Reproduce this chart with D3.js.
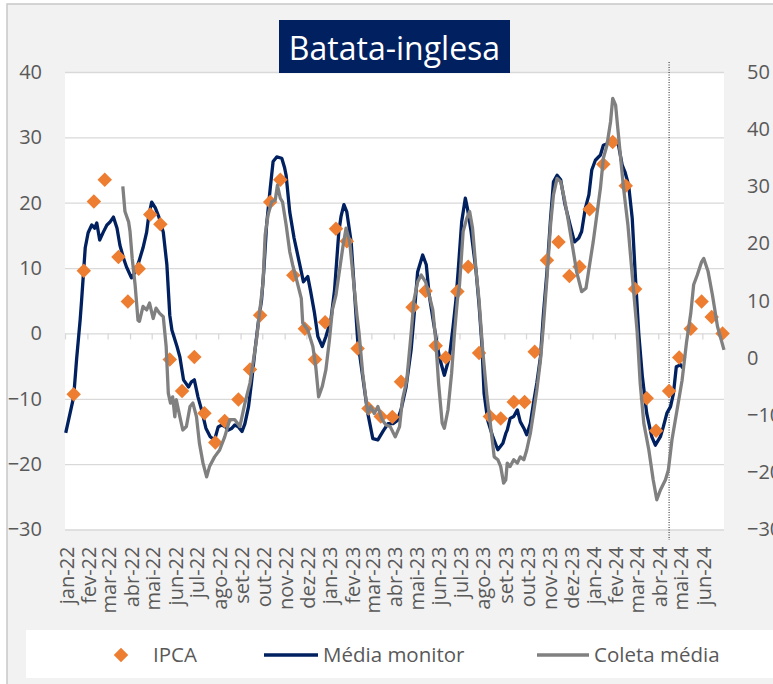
<!DOCTYPE html>
<html lang="pt">
<head>
<meta charset="utf-8">
<script src="https://cdnjs.cloudflare.com/ajax/libs/d3/7.8.5/d3.min.js"></script>
<style>
  body { margin: 0; background: #fff; }
  text { font-family: 'Open Sans', sans-serif; fill: #595959; }
  .grid line { stroke: #d9d9d9; stroke-width: 1.3; }
  .grid path, .lbl path, .xt path { display: none; }
  .xt line { stroke: #d9d9d9; stroke-width: 1.3; }
  .lbl text { font-size: 20px; }
  .title { font-size: 32px; fill: #fff; }
  .leg { font-size: 20.5px; }
</style>
</head>
<body>
<div id="chart"></div>
<script>
// IPCA (eixo esquerdo)
var ipca = [
  ["2022-01-13",-9.3],["2022-01-27",9.6],["2022-02-10",20.2],["2022-02-25",23.5],
  ["2022-03-16",11.7],["2022-03-29",4.9],["2022-04-13",9.9],["2022-04-29",18.2],
  ["2022-05-13",16.7],["2022-05-26",-4.0],["2022-06-12",-8.8],["2022-06-29",-3.6],
  ["2022-07-13",-12.2],["2022-07-28",-16.7],["2022-08-10",-13.4],["2022-08-29",-10.1],
  ["2022-09-14",-5.5],["2022-09-28",2.8],["2022-10-12",20.1],["2022-10-26",23.5],
  ["2022-11-13",8.9],["2022-11-29",0.7],["2022-12-13",-4.0],["2022-12-27",1.7],
  ["2023-01-11",16.0],["2023-01-26",14.1],["2023-02-10",-2.3],["2023-02-25",-11.5],
  ["2023-03-14",-12.7],["2023-03-30",-12.8],["2023-04-11",-7.4],["2023-04-27",4.0],
  ["2023-05-15",6.5],["2023-05-29",-1.9],["2023-06-12",-3.7],["2023-06-28",6.4],
  ["2023-07-13",10.2],["2023-07-28",-3.0],["2023-08-12",-12.7],["2023-08-27",-13.0],
  ["2023-09-14",-10.5],["2023-09-29",-10.5],["2023-10-13",-2.8],["2023-10-30",11.2],
  ["2023-11-15",14.0],["2023-11-30",8.8],["2023-12-14",10.2],["2023-12-28",19.0],
  ["2024-01-16",25.9],["2024-01-29",29.3],["2024-02-16",22.6],["2024-02-29",6.8],
  ["2024-03-16",-9.9],["2024-03-29",-14.9],["2024-04-16",-8.8],["2024-04-30",-3.7],
  ["2024-05-16",0.7],["2024-05-31",4.9],["2024-06-14",2.5],["2024-06-29",0.0]
];

// Média monitor (eixo esquerdo)
var monitor = [
  ["2022-01-02",-15.2],["2022-01-13",-9.7],["2022-01-17",-4.0],["2022-01-22",2.1],
  ["2022-01-24",5.1],["2022-01-29",13.1],["2022-02-02",15.4],["2022-02-07",16.6],
  ["2022-02-11",16.1],["2022-02-14",16.9],["2022-02-18",14.3],["2022-02-23",15.5],
  ["2022-02-28",16.6],["2022-03-04",17.0],["2022-03-09",17.8],["2022-03-14",16.1],
  ["2022-03-18",13.5],["2022-03-23",11.5],["2022-03-27",10.2],["2022-04-03",8.5],
  ["2022-04-08",9.4],["2022-04-13",10.9],["2022-04-19",13.1],["2022-04-24",15.5],
  ["2022-04-27",18.1],["2022-05-01",20.1],["2022-05-06",19.2],["2022-05-11",17.8],
  ["2022-05-17",15.5],["2022-05-22",10.5],["2022-05-26",2.8],["2022-05-29",0.5],
  ["2022-06-05",-2.0],["2022-06-09",-3.6],["2022-06-14",-7.1],["2022-06-21",-8.2],
  ["2022-06-25",-7.4],["2022-06-29",-7.1],["2022-07-04",-9.7],["2022-07-09",-11.7],
  ["2022-07-15",-14.5],["2022-07-21",-15.8],["2022-07-27",-16.3],["2022-08-01",-14.3],
  ["2022-08-06",-14.0],["2022-08-11",-14.3],["2022-08-15",-14.8],["2022-08-20",-14.5],
  ["2022-08-24",-14.0],["2022-08-29",-14.3],["2022-09-03",-15.0],["2022-09-07",-13.8],
  ["2022-09-12",-11.2],["2022-09-16",-7.6],["2022-09-21",-2.5],["2022-09-26",2.1],
  ["2022-09-30",5.1],["2022-10-03",9.4],["2022-10-07",16.6],["2022-10-12",22.2],
  ["2022-10-16",26.3],["2022-10-21",27.0],["2022-10-28",26.8],["2022-11-01",25.3],
  ["2022-11-03",24.2],["2022-11-08",18.6],["2022-11-14",14.6],["2022-11-21",11.0],
  ["2022-11-27",7.9],["2022-12-03",8.7],["2022-12-07",6.4],["2022-12-12",3.3],
  ["2022-12-17",-0.5],["2022-12-23",-2.0],["2022-12-28",-0.5],["2023-01-04",2.1],
  ["2023-01-09",6.6],["2023-01-15",15.6],["2023-01-18",17.9],["2023-01-22",19.7],
  ["2023-01-26",18.6],["2023-02-01",14.0],["2023-02-05",7.4],["2023-02-10",-1.0],
  ["2023-02-17",-6.6],["2023-02-24",-12.2],["2023-03-03",-16.1],["2023-03-10",-16.3],
  ["2023-03-17",-15.0],["2023-03-24",-13.8],["2023-03-31",-13.8],["2023-04-06",-13.3],
  ["2023-04-11",-11.7],["2023-04-18",-8.2],["2023-04-25",-2.5],["2023-04-29",2.6],
  ["2023-05-04",9.4],["2023-05-11",12.0],["2023-05-16",10.5],["2023-05-20",5.9],
  ["2023-05-27",1.0],["2023-06-03",-3.6],["2023-06-10",-6.4],["2023-06-17",-3.6],
  ["2023-06-22",1.0],["2023-06-26",5.1],["2023-06-29",9.4],["2023-07-04",17.1],
  ["2023-07-09",20.7],["2023-07-12",19.1],["2023-07-17",15.6],["2023-07-24",9.4],
  ["2023-07-28",4.4],["2023-08-01",-1.8],["2023-08-04",-9.2],["2023-08-09",-13.3],
  ["2023-08-16",-15.8],["2023-08-23",-17.8],["2023-08-30",-16.8],["2023-09-03",-15.3],
  ["2023-09-05",-14.8],["2023-09-09",-13.0],["2023-09-14",-12.7],["2023-09-19",-11.7],
  ["2023-09-23",-13.5],["2023-09-28",-14.5],["2023-10-02",-15.5],["2023-10-07",-13.8],
  ["2023-10-12",-10.2],["2023-10-16",-7.6],["2023-10-21",-3.6],["2023-10-25",2.8],
  ["2023-10-30",9.4],["2023-11-04",17.6],["2023-11-08",23.2],["2023-11-13",24.2],
  ["2023-11-18",23.5],["2023-11-24",19.7],["2023-12-01",16.6],["2023-12-07",14.0],
  ["2023-12-13",14.6],["2023-12-17",15.6],["2023-12-22",19.1],["2023-12-27",21.2],
  ["2023-12-31",25.0],["2024-01-05",26.5],["2024-01-12",27.3],["2024-01-16",28.8],
  ["2024-01-23",29.1],["2024-01-30",29.6],["2024-02-06",28.8],["2024-02-11",25.8],
  ["2024-02-15",24.7],["2024-02-20",22.7],["2024-02-25",17.6],["2024-02-29",9.4],
  ["2024-03-05",0.0],["2024-03-10",-6.6],["2024-03-16",-12.2],["2024-03-23",-15.8],
  ["2024-03-28",-17.1],["2024-04-04",-15.8],["2024-04-08",-14.3],["2024-04-13",-12.2],
  ["2024-04-18",-11.2],["2024-04-22",-9.2],["2024-04-26",-5.1],["2024-05-02",-4.8],
  ["2024-05-05",-5.3]
];

// Coleta média (eixo direito)
var coleta = [
  ["2022-03-22",30.0],["2022-03-25",25.6],["2022-03-30",23.8],["2022-04-01",22.1],
  ["2022-04-04",17.4],["2022-04-08",12.8],["2022-04-12",6.6],["2022-04-14",6.4],
  ["2022-04-19",9.0],["2022-04-24",8.4],["2022-04-28",9.6],["2022-05-03",6.9],
  ["2022-05-07",8.7],["2022-05-12",7.8],["2022-05-17",7.2],["2022-05-21",2.0],
  ["2022-05-24",-6.2],["2022-05-27",-7.9],["2022-05-30",-6.8],["2022-06-02",-10.3],
  ["2022-06-04",-7.3],["2022-06-09",-10.3],["2022-06-13",-12.6],["2022-06-18",-12.0],
  ["2022-06-23",-8.5],["2022-06-27",-7.9],["2022-07-02",-10.3],["2022-07-06",-14.9],
  ["2022-07-11",-18.4],["2022-07-16",-20.8],["2022-07-20",-19.0],["2022-07-27",-17.3],
  ["2022-08-03",-16.1],["2022-08-10",-13.8],["2022-08-17",-10.8],["2022-08-24",-10.8],
  ["2022-08-31",-12.0],["2022-09-07",-7.9],["2022-09-14",-4.4],["2022-09-23",3.2],
  ["2022-10-02",13.1],["2022-10-05",21.5],["2022-10-09",25.0],["2022-10-14",27.3],
  ["2022-10-19",27.6],["2022-10-22",30.2],["2022-10-26",27.9],["2022-10-29",27.3],
  ["2022-11-03",23.3],["2022-11-08",18.6],["2022-11-12",16.3],["2022-11-17",13.9],
  ["2022-11-24",10.4],["2022-11-26",6.1],["2022-12-03",4.9],["2022-12-10",2.0],
  ["2022-12-14",-1.5],["2022-12-18",-6.8],["2022-12-23",-5.0],["2022-12-28",-2.1],
  ["2023-01-02",3.2],["2023-01-06",8.4],["2023-01-11",11.0],["2023-01-17",16.3],
  ["2023-01-21",19.8],["2023-01-25",22.7],["2023-01-30",20.3],["2023-02-03",15.1],
  ["2023-02-09",7.5],["2023-02-12",4.3],["2023-02-17",-2.7],["2023-02-24",-9.7],
  ["2023-02-28",-8.5],["2023-03-05",-9.7],["2023-03-10",-8.5],["2023-03-16",-10.8],
  ["2023-03-21",-11.7],["2023-03-27",-12.0],["2023-04-03",-13.8],["2023-04-09",-12.0],
  ["2023-04-13",-7.3],["2023-04-19",-3.9],["2023-04-25",4.3],["2023-04-29",10.1],
  ["2023-05-04",13.3],["2023-05-09",14.5],["2023-05-15",13.3],["2023-05-20",11.0],
  ["2023-05-25",8.4],["2023-05-29",3.2],["2023-06-02",-4.4],["2023-06-07",-11.4],
  ["2023-06-10",-12.3],["2023-06-15",-9.1],["2023-06-20",-2.7],["2023-06-24",4.3],
  ["2023-06-28",10.1],["2023-07-01",12.8],["2023-07-06",22.1],["2023-07-11",24.4],
  ["2023-07-15",25.6],["2023-07-19",22.7],["2023-07-24",15.1],["2023-07-28",10.1],
  ["2023-08-02",1.4],["2023-08-08",-6.8],["2023-08-12",-10.8],["2023-08-18",-17.3],
  ["2023-08-23",-17.8],["2023-08-27",-19.0],["2023-08-31",-21.9],["2023-09-03",-21.3],
  ["2023-09-05",-18.4],["2023-09-09",-19.0],["2023-09-14",-17.8],["2023-09-19",-18.4],
  ["2023-09-23",-17.3],["2023-09-28",-17.8],["2023-10-02",-16.1],["2023-10-07",-13.2],
  ["2023-10-12",-9.1],["2023-10-16",-5.6],["2023-10-21",-0.4],["2023-10-25",5.5],
  ["2023-10-30",13.9],["2023-11-04",23.3],["2023-11-08",28.5],["2023-11-13",31.4],
  ["2023-11-18",30.8],["2023-11-23",27.9],["2023-11-28",24.4],["2023-12-04",19.8],
  ["2023-12-10",15.1],["2023-12-17",11.6],["2023-12-23",12.2],["2023-12-28",16.3],
  ["2024-01-02",20.3],["2024-01-07",25.0],["2024-01-12",29.7],["2024-01-16",34.9],
  ["2024-01-21",37.2],["2024-01-26",41.3],["2024-01-29",45.4],["2024-02-02",44.2],
  ["2024-02-05",40.2],["2024-02-09",34.9],["2024-02-13",29.7],["2024-02-19",23.3],
  ["2024-02-23",17.4],["2024-02-27",11.6],["2024-03-03",4.3],["2024-03-07",-4.4],
  ["2024-03-12",-11.4],["2024-03-19",-16.1],["2024-03-25",-21.3],["2024-03-30",-24.8],
  ["2024-04-04",-23.1],["2024-04-11",-21.3],["2024-04-15",-19.6],["2024-04-20",-14.3],
  ["2024-04-27",-9.1],["2024-05-04",-3.9],["2024-05-10",2.6],["2024-05-16",7.8],
  ["2024-05-20",12.8],["2024-05-25",14.5],["2024-05-31",16.8],["2024-06-03",17.4],
  ["2024-06-09",15.1],["2024-06-15",11.0],["2024-06-22",5.5],["2024-07-01",1.4]
];

var leftTicks = [-30, -20, -10, 0, 10, 20, 30, 40];
var rightTicks = [-30, -20, -10, 0, 10, 20, 30, 40, 50];
var monthNames = ["jan","fev","mar","abr","mai","jun","jul","ago","set","out","nov","dez"];
var dateRange = ["2022-01-01", "2024-07-01"];
var markerDate = "2024-04-16";
var titleText = "Batata-inglesa";
var seriesNames = ["IPCA", "Média monitor", "Coleta média"];

var colors = {ipca: "#ed7d31", monitor: "#002060", coleta: "#808080"};

var W = 773, H = 684;
var plot = {left: 65, top: 72, right: 724, bottom: 529.5};

var parse = d3.utcParse("%Y-%m-%d");
function toObj(a) { return a.map(function (d) { return {date: parse(d[0]), value: d[1]}; }); }
var ipcaData = toObj(ipca), monitorData = toObj(monitor), coletaData = toObj(coleta);

var svg = d3.select("#chart").append("svg")
    .attr("width", W)
    .attr("height", H);

// chart area background + frame
svg.append("rect")
    .attr("x", 7).attr("y", 4)
    .attr("width", 820).attr("height", 720)
    .attr("fill", "#f2f2f2")
    .attr("stroke", "#c8c8c8")
    .attr("stroke-width", 1.5);

svg.append("rect")
    .attr("x", plot.left).attr("y", plot.top)
    .attr("width", plot.right - plot.left)
    .attr("height", plot.bottom - plot.top)
    .attr("fill", "#fff");

var x = d3.scaleUtc()
    .domain(dateRange.map(parse))
    .range([plot.left, plot.right]);

var yL = d3.scaleLinear()
    .domain([-30, 40])
    .range([plot.bottom, plot.top]);

var yR = d3.scaleLinear()
    .domain([-30, 50])
    .range([plot.bottom, plot.top]);

// gridlines
svg.append("g")
    .attr("class", "grid")
    .attr("transform", "translate(" + plot.left + ",0)")
    .call(d3.axisLeft(yL).tickValues(leftTicks).tickSize(-(plot.right - plot.left)).tickFormat(""));

// y labels
svg.append("g")
    .attr("class", "lbl")
    .attr("transform", "translate(" + plot.left + ",0)")
    .call(d3.axisLeft(yL).tickValues(leftTicks).tickSize(0).tickPadding(23))
    .selectAll("line").remove();

svg.append("g")
    .attr("class", "lbl")
    .attr("transform", "translate(" + plot.right + ",0)")
    .call(d3.axisRight(yR).tickValues(rightTicks).tickSize(0).tickPadding(23))
    .selectAll("line").remove();

// x ticks on the zero line
var months = d3.utcMonth.range(x.domain()[0], x.domain()[1]);
svg.append("g")
    .attr("class", "xt")
    .attr("transform", "translate(0," + yL(0) + ")")
    .call(d3.axisBottom(x).tickValues(months).tickSize(6).tickFormat(""));

// x labels below the plot
var fmt = function (d) {
    return monthNames[d.getUTCMonth()] + "-" + String(d.getUTCFullYear()).slice(2);
};
var xl = svg.append("g")
    .attr("class", "lbl")
    .attr("transform", "translate(0," + plot.bottom + ")")
    .call(d3.axisBottom(x).tickValues(months).tickSize(0).tickFormat(fmt));
xl.selectAll("line").remove();
xl.selectAll("text")
    .attr("transform", "rotate(-90)")
    .attr("x", -17)
    .attr("y", 1)
    .attr("dy", "0.35em")
    .style("text-anchor", "end");

// dotted marker line
svg.append("line")
    .attr("x1", x(parse(markerDate))).attr("x2", x(parse(markerDate)))
    .attr("y1", 62).attr("y2", 540)
    .attr("stroke", "#222")
    .attr("stroke-width", 1)
    .attr("stroke-dasharray", "1,1.5");

var lineL = d3.line()
    .x(function (d) { return x(d.date); })
    .y(function (d) { return yL(d.value); });
var lineR = d3.line()
    .x(function (d) { return x(d.date); })
    .y(function (d) { return yR(d.value); });

svg.append("path")
    .datum(monitorData)
    .attr("d", lineL)
    .attr("fill", "none")
    .attr("stroke", colors.monitor)
    .attr("stroke-width", 3.3)
    .attr("stroke-linejoin", "round");

var diamond = d3.symbol().type(d3.symbolSquare).size(105);

svg.append("g").selectAll("path")
    .data(ipcaData)
    .enter().append("path")
    .attr("d", diamond)
    .attr("transform", function (d) {
        return "translate(" + x(d.date) + "," + yL(d.value) + ") rotate(45)";
    })
    .attr("fill", colors.ipca);

svg.append("path")
    .datum(coletaData)
    .attr("d", lineR)
    .attr("fill", "none")
    .attr("stroke", colors.coleta)
    .attr("stroke-width", 3.3)
    .attr("stroke-linejoin", "round");

// title
svg.append("rect")
    .attr("x", 279).attr("y", 20)
    .attr("width", 231).attr("height", 53)
    .attr("fill", "#002060");
svg.append("text")
    .attr("class", "title")
    .attr("x", 394.5).attr("y", 60)
    .attr("text-anchor", "middle")
    .text(titleText);

// legend
var leg = svg.append("g");
leg.append("rect")
    .attr("x", 26).attr("y", 630)
    .attr("width", 800).attr("height", 48)
    .attr("fill", "#fff");
leg.append("path")
    .attr("d", diamond)
    .attr("transform", "translate(121,655) rotate(45)")
    .attr("fill", colors.ipca);
leg.append("text").attr("class", "leg").attr("x", 153).attr("y", 662).text(seriesNames[0]);
leg.append("line")
    .attr("x1", 264).attr("x2", 318).attr("y1", 655).attr("y2", 655)
    .attr("stroke", colors.monitor).attr("stroke-width", 3.5);
leg.append("text").attr("class", "leg").attr("x", 323).attr("y", 662).text(seriesNames[1]);
leg.append("line")
    .attr("x1", 537).attr("x2", 589).attr("y1", 655).attr("y2", 655)
    .attr("stroke", colors.coleta).attr("stroke-width", 3.5);
leg.append("text").attr("class", "leg").attr("x", 594).attr("y", 662).text(seriesNames[2]);
</script>
</body>
</html>
